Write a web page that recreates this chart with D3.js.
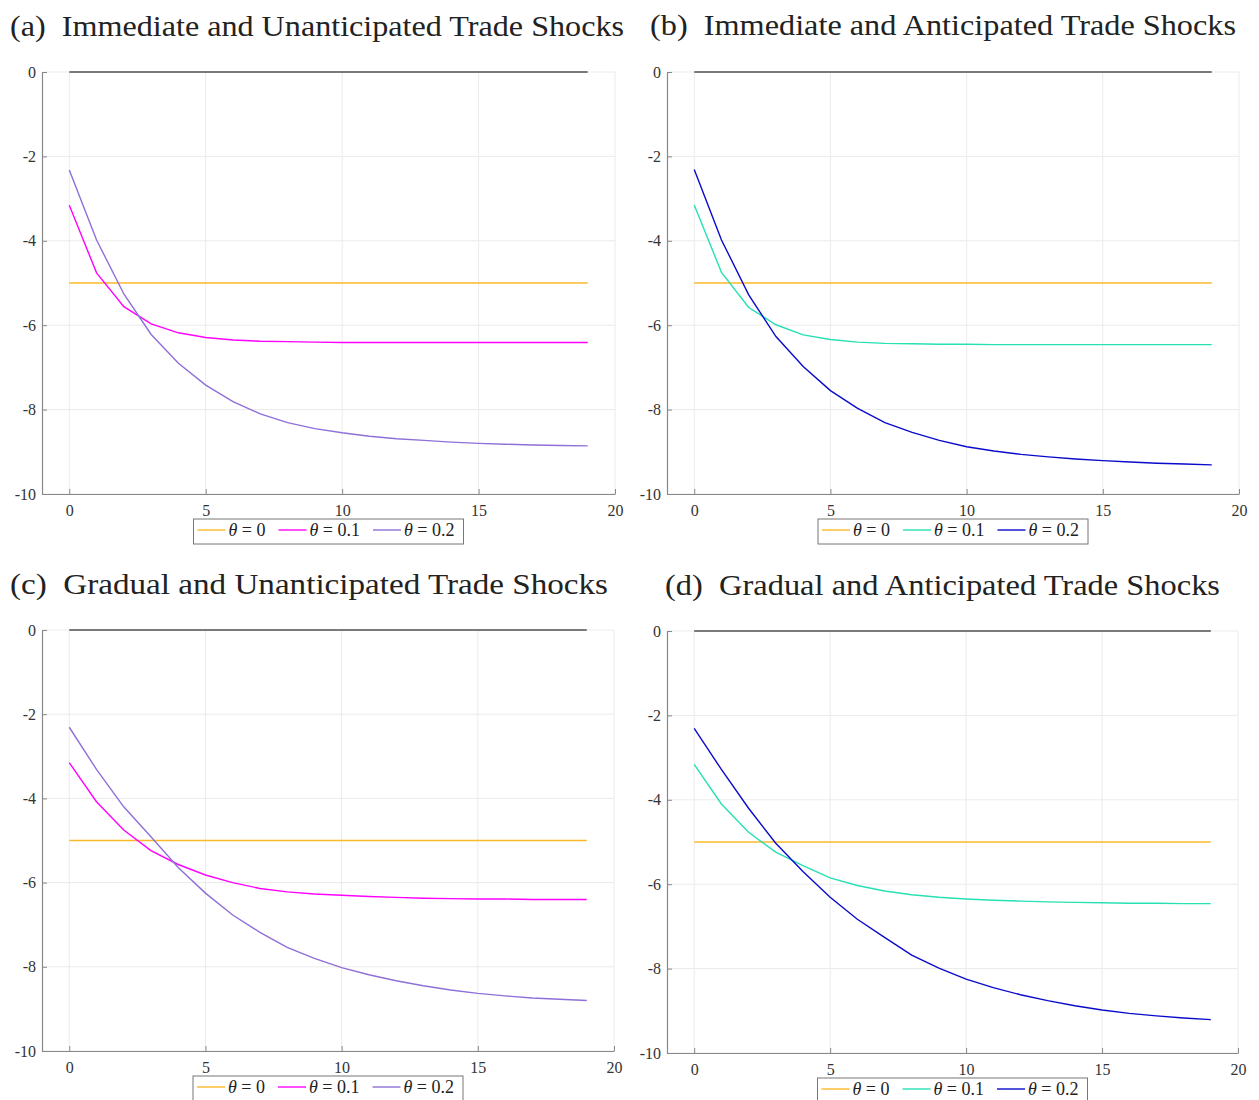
<!DOCTYPE html>
<html>
<head>
<meta charset="utf-8">
<script src="https://cdn.jsdelivr.net/npm/d3@7"></script>
<style>
  body { margin: 0; background: #fff; }
  text { font-family: "Liberation Serif", "DejaVu Serif", serif; fill: #222; }
  .title { font-size: 29px; white-space: pre; }
  .axis text { font-size: 16px; fill: #333; }
  .legend text { font-size: 18px; }
</style>
</head>
<body>
<div id="chart"></div>
<script>
const periods = d3.range(0, 20);
const thetaLabels = ["0", "0.1", "0.2"];

const zeroLine = periods.map(() => 0);
const theta0 = periods.map(() => -5);

// (a) immediate, unanticipated
const aTheta01 = [-3.16, -4.76, -5.56, -5.97, -6.18, -6.29, -6.35, -6.38, -6.39, -6.40,
  -6.41, -6.41, -6.41, -6.41, -6.41, -6.41, -6.41, -6.41, -6.41, -6.41];
const aTheta02 = [-2.32, -3.98, -5.26, -6.22, -6.90, -7.42, -7.81, -8.10, -8.31, -8.45,
  -8.55, -8.63, -8.69, -8.73, -8.77, -8.80, -8.82, -8.84, -8.85, -8.86];

// (b) immediate, anticipated
const bTheta01 = [-3.15, -4.75, -5.58, -5.99, -6.23, -6.34, -6.40, -6.43, -6.44, -6.45,
  -6.45, -6.46, -6.46, -6.46, -6.46, -6.46, -6.46, -6.46, -6.46, -6.46];
const bTheta02 = [-2.31, -3.98, -5.28, -6.27, -6.98, -7.55, -7.97, -8.31, -8.54, -8.73,
  -8.88, -8.98, -9.06, -9.12, -9.17, -9.21, -9.24, -9.27, -9.29, -9.31];

// (c) gradual, unanticipated
const cTheta01 = [-3.15, -4.08, -4.75, -5.24, -5.57, -5.82, -6.00, -6.14, -6.22, -6.27,
  -6.30, -6.33, -6.35, -6.37, -6.38, -6.39, -6.39, -6.40, -6.40, -6.40];
const cTheta02 = [-2.31, -3.31, -4.20, -4.91, -5.64, -6.25, -6.77, -7.18, -7.54, -7.80,
  -8.02, -8.19, -8.33, -8.45, -8.55, -8.63, -8.69, -8.74, -8.77, -8.80];

// (d) gradual, anticipated
const dTheta01 = [-3.16, -4.10, -4.77, -5.24, -5.56, -5.85, -6.03, -6.16, -6.25, -6.31,
  -6.35, -6.38, -6.40, -6.42, -6.43, -6.44, -6.45, -6.45, -6.46, -6.46];
const dTheta02 = [-2.31, -3.28, -4.20, -5.03, -5.70, -6.31, -6.83, -7.26, -7.68, -7.99,
  -8.25, -8.45, -8.62, -8.76, -8.88, -8.98, -9.06, -9.12, -9.17, -9.21];

const xTicks = [0, 5, 10, 15, 20];
const yTicks = [0, -2, -4, -6, -8, -10];

const orange = "#fbb829";
const panels = [
  { title: "(a)  Immediate and Unanticipated Trade Shocks", tx: 10, ty: 36, tw: 614,
    left: 42, right: 615, top: 72, bottom: 494,
    series: [theta0, aTheta01, aTheta02], colors: [orange, "#ff00ff", "#8f6fd8"] },
  { title: "(b)  Immediate and Anticipated Trade Shocks", tx: 650, ty: 35, tw: 586,
    left: 667, right: 1239, top: 72, bottom: 494,
    series: [theta0, bTheta01, bTheta02], colors: [orange, "#27e0b3", "#0a0acc"] },
  { title: "(c)  Gradual and Unanticipated Trade Shocks", tx: 10, ty: 594, tw: 598,
    left: 42, right: 614, top: 630, bottom: 1051,
    series: [theta0, cTheta01, cTheta02], colors: [orange, "#ff00ff", "#8f6fd8"] },
  { title: "(d)  Gradual and Anticipated Trade Shocks", tx: 665, ty: 595, tw: 555,
    left: 667, right: 1238, top: 631, bottom: 1053,
    series: [theta0, dTheta01, dTheta02], colors: [orange, "#27e0b3", "#0a0acc"] }
];

const svg = d3.select("#chart").append("svg")
  .attr("width", 1259).attr("height", 1100);

panels.forEach(function (p) {
  const x = d3.scaleLinear().domain([-1, 20]).range([p.left, p.right]);
  const y = d3.scaleLinear().domain([-10, 0]).range([p.bottom, p.top]);
  const g = svg.append("g");

  g.append("text").attr("class", "title")
    .attr("x", p.tx).attr("y", p.ty)
    .attr("textLength", p.tw)
    .attr("lengthAdjust", "spacingAndGlyphs")
    .text(p.title);

  // grid
  g.append("g").selectAll("line").data(xTicks).join("line")
    .attr("x1", d => x(d)).attr("x2", d => x(d))
    .attr("y1", p.top).attr("y2", p.bottom)
    .attr("stroke", "#ebebeb");
  g.append("g").selectAll("line").data(yTicks).join("line")
    .attr("x1", p.left).attr("x2", p.right)
    .attr("y1", d => y(d)).attr("y2", d => y(d))
    .attr("stroke", "#ebebeb");

  // axes, ticks point inward
  const fmt = d => String(d);
  const xAxis = g.append("g").attr("class", "axis")
    .attr("transform", `translate(0,${p.bottom})`)
    .call(d3.axisBottom(x).tickValues(xTicks).tickFormat(fmt)
      .tickSizeInner(-5).tickSizeOuter(0).tickPadding(12));
  const yAxis = g.append("g").attr("class", "axis")
    .attr("transform", `translate(${p.left},0)`)
    .call(d3.axisLeft(y).tickValues(yTicks).tickFormat(fmt)
      .tickSizeInner(-5).tickSizeOuter(0).tickPadding(6));
  [xAxis, yAxis].forEach(function (a) {
    a.select(".domain").attr("stroke", "#888").attr("stroke-width", 1.2);
    a.selectAll(".tick line").attr("stroke", "#888");
  });
  xAxis.selectAll("text").attr("dy", "0.6em");

  const line = d3.line().x((d, i) => x(periods[i])).y(d => y(d));

  g.append("path").datum(zeroLine)
    .attr("d", line).attr("fill", "none")
    .attr("stroke", "#000").attr("stroke-width", 1.2);

  p.series.forEach(function (s, k) {
    g.append("path").datum(s)
      .attr("d", line).attr("fill", "none")
      .attr("stroke", p.colors[k]).attr("stroke-width", 1.4);
  });

  // legend below the axis
  const leg = g.append("g").attr("class", "legend");
  const box = leg.append("rect")
    .attr("fill", "#fff").attr("stroke", "#777").attr("stroke-width", 1);
  let cx = 0;
  const ly = p.bottom + 42;
  const items = leg.append("g");
  thetaLabels.forEach(function (lab, k) {
    items.append("line")
      .attr("x1", cx + 4).attr("x2", cx + 32)
      .attr("y1", ly - 6).attr("y2", ly - 6)
      .attr("stroke", p.colors[k]).attr("stroke-width", 1.4);
    const t = items.append("text").attr("x", cx + 35).attr("y", ly);
    t.append("tspan").attr("font-style", "italic").text("θ");
    t.append("tspan").text(" = " + lab);
    cx += 35 + t.node().getComputedTextLength() + 9;
  });
  const w = cx;
  const lx = (p.left + p.right) / 2 - w / 2;
  items.attr("transform", `translate(${lx},0)`);
  box.attr("x", lx).attr("y", ly - 17).attr("width", w).attr("height", 25);
});
</script>
</body>
</html>
